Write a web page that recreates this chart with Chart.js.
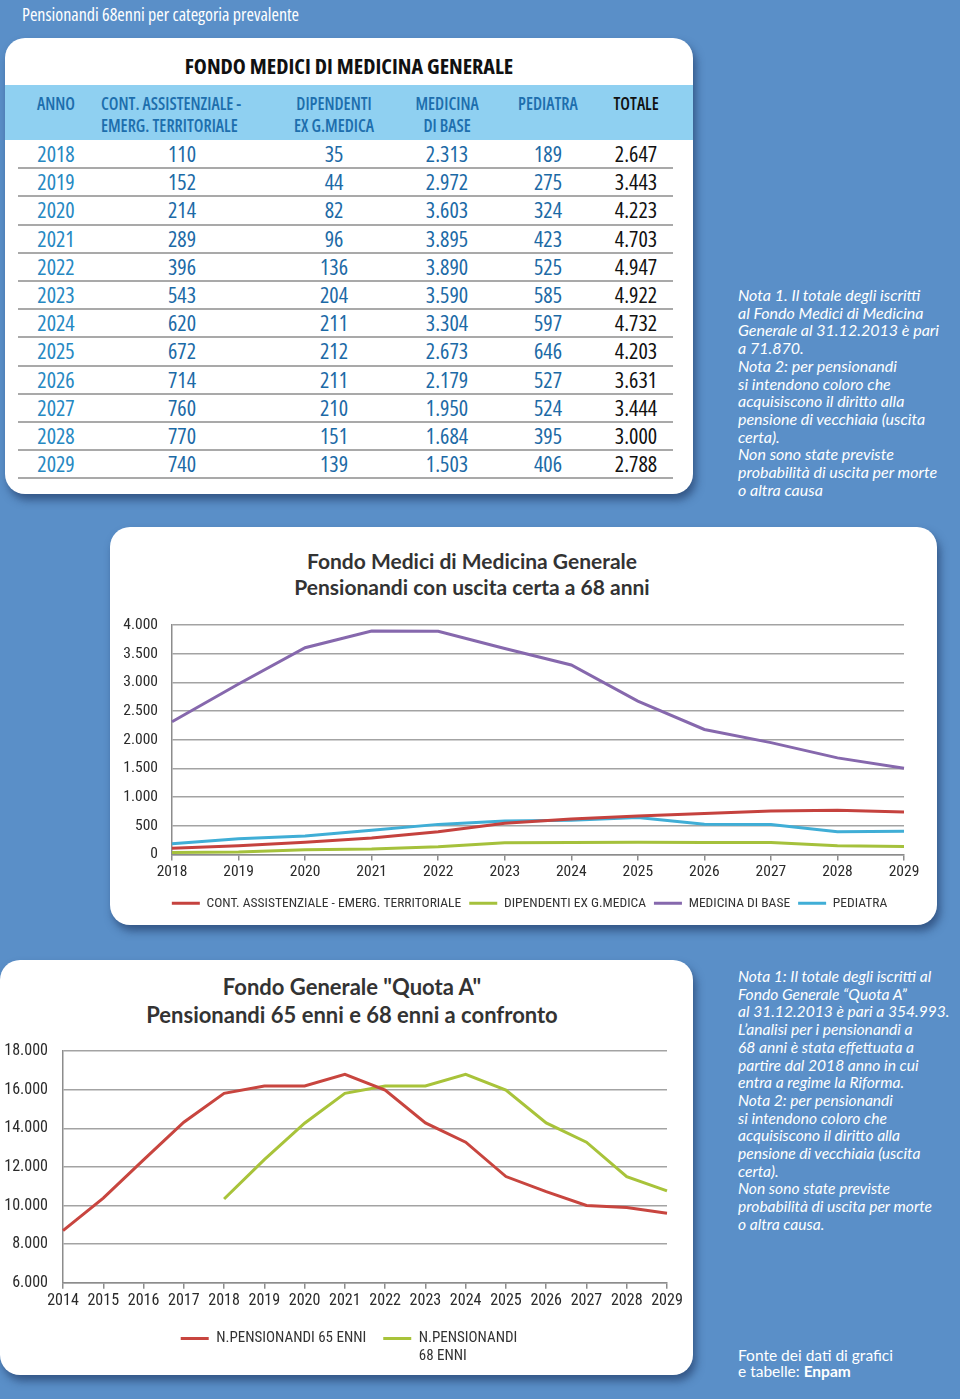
<!DOCTYPE html>
<html lang="it">
<head>
<meta charset="utf-8">
<script src="https://cdn.jsdelivr.net/npm/chart.js@4.4.1/dist/chart.umd.min.js"></script>
<style>
  html, body { margin: 0; padding: 0; }
  body {
    width: 960px; height: 1399px; position: relative; overflow: hidden;
    background: #5a8fc8;
    font-family: "Open Sans", sans-serif;
  }
  .abs { position: absolute; }
  .cond { font-family: "Open Sans", sans-serif; font-stretch: 75%; }
  #pageTitle { left: 22px; top: 2px; color: #fff; font-size: 18px; font-weight: 500; line-height: 24px; }
  .panel {
    position: absolute; background: #fff; border-radius: 20px;
    box-shadow: 3px 6px 9px rgba(20, 40, 80, .55);
    overflow: hidden;
  }
  #tablePanel { left: 5px; top: 38px; width: 688px; height: 456px; }
  #tableTitle { left: 0; width: 688px; top: 12px; text-align: center; font-weight: 700; font-size: 22px; line-height: 30px; color: #111; }
  #headBand { left: 0; top: 47px; width: 688px; height: 55px; background: #8fd0f1; }
  .hcell { position: absolute; font-weight: 600; font-size: 17px; line-height: 22px; color: #1d6ead; white-space: nowrap; }
  .cell { position: absolute; font-size: 22px; font-weight: 500; line-height: 28px; color: #1c6aa6; text-align: center; width: 120px; }
  .rowline { position: absolute; left: 13px; width: 655px; height: 2px; background: #a9a9a9; }
  .note { position: absolute; color: #fff; font-family: Lato, "Open Sans", sans-serif; font-style: italic; font-size: 16px; line-height: 17.7px; white-space: nowrap; }
  .ctitle { position: absolute; text-align: center; font-family: Lato, sans-serif; font-weight: bold; color: #333; white-space: nowrap; }
  canvas { position: absolute; left: 0; top: 0; }
</style>
</head>
<body>
<div id="pageTitle" class="abs cond">Pensionandi 68enni per categoria prevalente</div>

<div id="tablePanel" class="panel cond">
  <div id="tableTitle" class="abs">FONDO MEDICI DI MEDICINA GENERALE</div>
  <div id="headBand" class="abs"></div>
  <div id="tableBody"></div>
</div>

<div class="note" style="left:738px; top:286px;">
Nota 1. Il totale degli iscritti<br>
al Fondo Medici di Medicina<br>
Generale al 31.12.2013 è pari<br>
a 71.870.<br>
Nota 2: per pensionandi<br>
si intendono coloro che<br>
acquisiscono il diritto alla<br>
pensione di vecchiaia (uscita<br>
certa).<br>
Non sono state previste<br>
probabilità di uscita per morte<br>
o altra causa
</div>

<div id="chartPanel1" class="panel" style="left:110px; top:527px; width:827px; height:398px;">
  <div class="ctitle" style="left:0; width:724px; top:21px; font-size:21px; line-height:26px;">Fondo Medici di Medicina Generale<br>Pensionandi con uscita certa a 68 anni</div>
  <canvas id="chart1"></canvas>
</div>

<div id="chartPanel2" class="panel" style="left:0; top:960px; width:693px; height:415px;">
  <div class="ctitle" style="left:0; width:704px; top:13px; font-size:22px; line-height:28px;">Fondo Generale "Quota A"<br>Pensionandi 65 enni e 68 enni a confronto</div>
  <canvas id="chart2"></canvas>
</div>

<div class="note" style="left:738px; top:968px; font-size:15.6px;">
Nota 1: Il totale degli iscritti al<br>
Fondo Generale “Quota A”<br>
al 31.12.2013 è pari a 354.993.<br>
L’analisi per i pensionandi a<br>
68 anni è stata effettuata a<br>
partire dal 2018 anno in cui<br>
entra a regime la Riforma.<br>
Nota 2: per pensionandi<br>
si intendono coloro che<br>
acquisiscono il diritto alla<br>
pensione di vecchiaia (uscita<br>
certa).<br>
Non sono state previste<br>
probabilità di uscita per morte<br>
o altra causa.
</div>

<div class="note" style="left:738px; top:1347px; font-style:normal; font-size:15.5px; line-height:16px;">
Fonte dei dati di grafici<br>
e tabelle: <b>Enpam</b>
</div>

<script>
// ---------------------------------------------------------------------------
// Dati: Fondo Medici di Medicina Generale, pensionandi 68enni
// ---------------------------------------------------------------------------
const anni = ["2018", "2019", "2020", "2021", "2022", "2023", "2024", "2025", "2026", "2027", "2028", "2029"];
const contAssistenziale = [110, 152, 214, 289, 396, 543, 620, 672, 714, 760, 770, 740];
const dipendenti = [35, 44, 82, 96, 136, 204, 211, 212, 211, 210, 151, 139];
const medicinaBase = [2313, 2972, 3603, 3895, 3890, 3590, 3304, 2673, 2179, 1950, 1684, 1503];
const pediatra = [189, 275, 324, 423, 525, 585, 597, 646, 527, 524, 395, 406];
const totale = [2647, 3443, 4223, 4703, 4947, 4922, 4732, 4203, 3631, 3444, 3000, 2788];

const serieMedici = ["CONT. ASSISTENZIALE - EMERG. TERRITORIALE", "DIPENDENTI EX G.MEDICA", "MEDICINA DI BASE", "PEDIATRA"];

// Fondo Generale "Quota A": pensionandi 65 e 68 anni
const anniQuotaA = ["2014", "2015", "2016", "2017", "2018", "2019", "2020", "2021", "2022", "2023", "2024", "2025", "2026", "2027", "2028", "2029"];
const pensionandi65 = [8700, 10380, 12360, 14310, 15810, 16190, 16190, 16790, 15980, 14280, 13280, 11500, 10720, 10000, 9900, 9600];
const pensionandi68 = [null, null, null, null, 10340, 12380, 14260, 15810, 16190, 16190, 16790, 15980, 14280, 13280, 11500, 10760];
const serieQuotaA = ["N.PENSIONANDI 65 ENNI", "N.PENSIONANDI"];
const serieQuotaA2 = ["", "68 ENNI"];

const fmtMigliaia = v => String(v).replace(/\B(?=(\d{3})+(?!\d))/g, ".");

// ---------------------------------------------------------------------------
// Tabella
// ---------------------------------------------------------------------------
const body = document.getElementById("tableBody");
const panel = document.getElementById("tablePanel");
const colX = [51, 177, 329, 442, 543, 631];

function hcell(text, left, top, color) {
  const d = document.createElement("div");
  d.className = "hcell";
  d.style.left = left + "px";
  d.style.top = top + "px";
  if (color) d.style.color = color;
  d.innerHTML = text;
  panel.appendChild(d);
  return d;
}
function centered(el, cx) {
  el.style.left = (cx - el.offsetWidth / 2) + "px";
}
const hTop = 55;
centered(hcell("ANNO", 0, hTop), colX[0]);
hcell("CONT. ASSISTENZIALE -<br>EMERG. TERRITORIALE", 96, hTop);
const h3 = hcell("DIPENDENTI<br>EX G.MEDICA", 0, hTop); h3.style.textAlign = "center"; centered(h3, colX[2]);
const h4 = hcell("MEDICINA<br>DI BASE", 0, hTop); h4.style.textAlign = "center"; centered(h4, colX[3]);
centered(hcell("PEDIATRA", 0, hTop), colX[4]);
centered(hcell("TOTALE", 0, hTop, "#111"), colX[5]);

const rowH = 28.2, rowTop = 102;
anni.forEach((a, i) => {
  const vals = [a, contAssistenziale[i], dipendenti[i], medicinaBase[i], pediatra[i], totale[i]];
  vals.forEach((v, j) => {
    const c = document.createElement("div");
    c.className = "cell";
    c.style.left = (colX[j] - 60) + "px";
    c.style.top = (rowTop + i * rowH - 1) + "px";
    if (j === 0) c.style.color = "#2688c2";
    if (j === 5) c.style.color = "#111";
    c.textContent = j === 0 ? v : fmtMigliaia(v);
    body.appendChild(c);
  });
  const l = document.createElement("div");
  l.className = "rowline";
  l.style.top = (rowTop + (i + 1) * rowH - 1) + "px";
  body.appendChild(l);
});

// ---------------------------------------------------------------------------
// Grafici
// ---------------------------------------------------------------------------
// "condensed" finisce nella stringa font del canvas (Roboto variabile)
const fontChart = size => ({ family: "Roboto, sans-serif", weight: "condensed", size });
Chart.defaults.color = "#2a2a2a";
Chart.defaults.animation = false;

function setupCanvas(id, w, h) {
  const c = document.getElementById(id);
  c.width = w; c.height = h;
  c.style.width = w + "px"; c.style.height = h + "px";
  return c;
}

function lineDs(label, data, color) {
  return { label, data, borderColor: color, backgroundColor: color, borderWidth: 3, pointRadius: 0, tension: 0, fill: false };
}

// asse vuoto a destra: tiene il margine del grafico ma lascia la legenda piu' larga
const spacer = w => ({
  position: "right", display: true,
  afterFit: s => { s.width = w; },
  grid: { display: false }, border: { display: false }, ticks: { display: false }
});

new Chart(setupCanvas("chart1", 827, 398), {
  type: "line",
  data: {
    labels: anni,
    datasets: [
      lineDs(serieMedici[0], contAssistenziale, "#c5423e"),
      lineDs(serieMedici[1], dipendenti, "#a5c13c"),
      lineDs(serieMedici[2], medicinaBase, "#8668ad"),
      lineDs(serieMedici[3], pediatra, "#40aed6"),
    ]
  },
  options: {
    responsive: false,
    layout: { padding: { top: 98, left: 12, right: 0, bottom: 5 } },
    plugins: {
      tooltip: { enabled: false },
      legend: {
        position: "bottom",
        labels: { usePointStyle: true, pointStyle: "line", pointStyleWidth: 28, padding: 8, color: "#333", font: fontChart(13.5) }
      }
    },
    scales: {
      x: {
        offset: false,
        afterFit: s => { s.height = 34; },
        grid: { drawOnChartArea: false, drawTicks: true, tickLength: 6, color: "#8c8c8c", lineWidth: 1.5 },
        border: { color: "#8c8c8c", width: 1.5 },
        ticks: { padding: 2, font: fontChart(15.5), maxRotation: 0 }
      },
      y: {
        min: 0, max: 4000,
        afterFit: s => { s.width = 50; },
        grid: { drawTicks: false, color: "#a3a3a3", lineWidth: 1.5 },
        border: { color: "#8c8c8c", width: 1.5 },
        ticks: { stepSize: 500, padding: 14, font: fontChart(15.5), callback: v => fmtMigliaia(v) }
      },
      destra: spacer(33)
    }
  }
});

const secondaRiga = {
  id: "secondaRiga",
  afterDraw(chart) {
    const lg = chart.legend;
    const ctx = chart.ctx;
    const f = lg.options.labels.font;
    ctx.save();
    ctx.font = `${f.weight} ${f.size}px ${f.family}`;
    ctx.fillStyle = "#333";
    ctx.textBaseline = "middle";
    ctx.textAlign = "left";
    lg.legendHitBoxes.forEach((hb, i) => {
      if (!serieQuotaA2[i]) return;
      ctx.fillText(serieQuotaA2[i], hb.left + lg.options.labels.pointStyleWidth + f.size / 2, hb.top + hb.height / 2 + 18);
    });
    ctx.restore();
  }
};

new Chart(setupCanvas("chart2", 693, 415), {
  type: "line",
  data: {
    labels: anniQuotaA,
    datasets: [
      lineDs(serieQuotaA[0], pensionandi65, "#c8453f"),
      lineDs(serieQuotaA[1], pensionandi68, "#a8c33a"),
    ]
  },
  options: {
    responsive: false,
    layout: { padding: { top: 91, left: 5, right: 0, bottom: 19 } },
    plugins: {
      tooltip: { enabled: false },
      legend: {
        position: "bottom",
        labels: { usePointStyle: true, pointStyle: "line", pointStyleWidth: 28, padding: 17, color: "#333", font: fontChart(15) }
      }
    },
    scales: {
      x: {
        offset: false,
        grid: { drawOnChartArea: false, drawTicks: true, tickLength: 6, color: "#8c8c8c", lineWidth: 1.5 },
        border: { color: "#8c8c8c", width: 1.5 },
        ticks: { padding: 3, font: fontChart(16), maxRotation: 0, autoSkip: false }
      },
      y: {
        min: 6000, max: 18000,
        afterFit: s => { s.width = 58; },
        grid: { drawTicks: false, color: "#a3a3a3", lineWidth: 1.5 },
        border: { color: "#8c8c8c", width: 1.5 },
        ticks: { stepSize: 2000, padding: 15, font: fontChart(16), callback: v => fmtMigliaia(v) }
      },
      destra: spacer(26)
    }
  },
  plugins: [secondaRiga]
});
</script>
</body>
</html>
